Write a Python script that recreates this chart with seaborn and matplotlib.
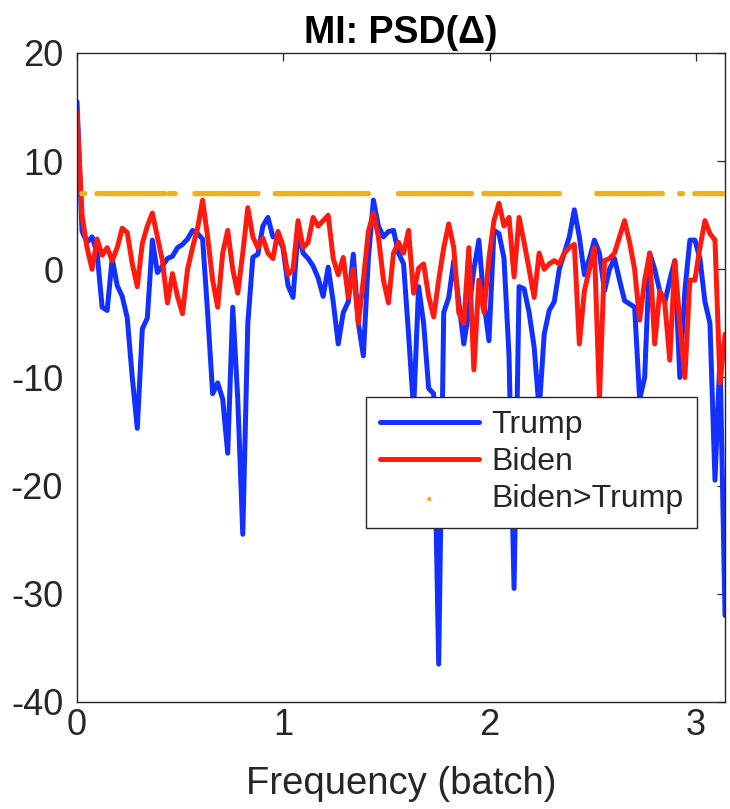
import numpy as np
import pandas as pd
import matplotlib
matplotlib.use("Agg")
import matplotlib.pyplot as plt
import seaborn as sns

# Frequency grid (rad / batch), 0 .. pi
n_bins = 130
freq = np.linspace(0, np.pi, n_bins)

# PSD of the difference signal, one value per frequency bin
trump = [
    15.5, 3.5, 2.5, 3.0, 1.5, -3.5, -3.8, 1.0, -1.5, -2.5,
    -4.5, -10.0, -14.7, -5.5, -4.5, 2.7, -0.3, 0.3, 1.0, 1.2,
    2.0, 2.3, 2.8, 3.6, 3.3, 2.8, -4.0, -11.5, -10.5, -12.0,
    -17.0, -3.5, -12.0, -24.5, -5.0, 1.1, 1.4, 4.0, 4.8, 3.0,
    3.0, 2.0, -1.5, -2.6, 3.5, 1.5, 1.0, 0.3, -0.8, -2.5,
    0.2, -3.0, -6.9, -4.0, -3.0, 1.4, -5.0, -8.0, 1.0, 6.4,
    4.0, 3.0, 3.5, 3.6, 1.5, 0.5, -6.0, -13.0, -1.6, -5.0,
    -11.0, -11.5, -36.5, -4.0, -2.6, 0.8, -3.0, -6.9, -3.8, 0.0,
    2.7, -3.0, -6.6, 3.6, 3.3, 1.0, -8.0, -29.5, -1.6, -1.8,
    -4.0, -7.2, -13.0, -6.0, -3.8, -3.0, 0.0, 1.5, 3.0, 5.5,
    3.0, -0.5, 1.0, 2.7, 1.5, -2.0, 0.0, 1.0, -1.0, -2.9,
    -3.2, -3.5, -12.0, -10.0, 1.5, 0.0, -2.0, -3.1, -1.0, 0.8,
    -10.0, -2.0, 2.7, 2.7, 1.0, -3.0, -5.0, -19.5, -8.0, -32.0,
]
biden = [
    14.5, 5.0, 2.0, 0.0, 2.8, 1.3, 2.0, 0.8, 2.0, 3.8,
    3.4, 0.5, -1.6, 2.4, 4.0, 5.2, 3.0, 0.8, -3.1, -0.4,
    -2.5, -4.1, 0.0, 2.0, 3.8, 6.4, 3.0, -1.0, -3.5, 1.5,
    3.6, 0.0, -2.2, 1.5, 5.7, 3.0, 2.0, 2.9, 1.5, 1.0,
    3.5, 2.2, -0.5, 0.0, 4.5, 2.0, 2.5, 4.8, 4.0, 4.5,
    5.0, 1.0, -0.5, 1.1, -2.6, 0.0, -5.0, -1.0, 3.5, 5.2,
    3.0, -1.0, -3.1, 1.5, 2.5, 1.5, 3.6, -2.2, 0.1, 0.5,
    -2.5, -4.4, -1.0, 2.0, 4.2, 2.0, -4.0, -5.0, 2.0, -9.3,
    -1.0, -4.0, 1.0, 4.5, 6.1, 4.0, 4.8, -0.7, 4.8, 2.5,
    0.0, -2.6, 1.5, 0.0, 0.5, 0.8, 0.5, 1.5, 2.0, 2.3,
    -6.9, -2.0, 0.0, 2.0, -12.0, 0.8, 1.0, 1.5, 3.0, 4.5,
    2.5, 0.0, -4.7, -1.0, 1.5, -6.9, -2.0, -3.1, -8.4, 0.8,
    -5.0, -10.0, -1.0, -1.0, 2.0, 4.5, 3.3, 2.7, -10.5, -6.0,
]

# Frequency bands flagged "Biden > Trump" (start, end)
biden_gt_bands = [
    (0.015, 0.040), (0.087, 0.432), (0.450, 0.485), (0.563, 0.888),
    (0.951, 1.413), (1.558, 1.915), (1.966, 2.345), (2.515, 2.845),
    (2.913, 2.942), (2.985, 3.142),
]
flag_level = 7.0

y_ticks = [-40, -30, -20, -10, 0, 10, 20]
x_ticks = [0, 1, 2, 3]

sns.set_theme(style="white")
plt.rcParams["font.family"] = ["Liberation Sans", "DejaVu Sans"]

psd = pd.DataFrame({
    "freq": np.concatenate([freq, freq]),
    "psd": np.concatenate([trump, biden]),
    "who": ["Trump"] * n_bins + ["Biden"] * n_bins,
})

# flag markers sit on a half-bin grid so the runs read as solid dashes
flag_freq = np.linspace(0, np.pi, 2 * n_bins - 1)
mask = np.zeros(flag_freq.size, dtype=bool)
for lo, hi in biden_gt_bands:
    mask |= (flag_freq >= lo) & (flag_freq <= hi)
flags = pd.DataFrame({"freq": flag_freq[mask], "level": flag_level})

fig = plt.figure(figsize=(7.30, 8.09), dpi=100)
ax = fig.add_axes([0.1055, 0.1323, 0.8877, 0.8022])

blue = "#1230ff"
red = "#ff1a0f"
gold = "#EDB120"
ink = "#262626"

sns.lineplot(data=psd[psd.who == "Trump"], x="freq", y="psd", color=blue,
             linewidth=3.6, sort=False, estimator=None, label="Trump", ax=ax)
sns.lineplot(data=psd[psd.who == "Biden"], x="freq", y="psd", color=red,
             linewidth=3.6, sort=False, estimator=None, label="Biden", ax=ax)
sns.scatterplot(data=flags, x="freq", y="level", color=gold, s=16,
                edgecolor="none", label="Biden>Trump", ax=ax, zorder=3)

ax.set_xlim(0, np.pi)
ax.set_ylim(-40, 20)
ax.set_xticks(x_ticks)
ax.set_yticks(y_ticks)
ax.set_xticklabels([str(t) for t in x_ticks])
ax.set_yticklabels([str(t) for t in y_ticks])
ax.tick_params(direction="in", top=True, right=True, length=6, width=0.9,
               colors=ink, labelsize=26)
ax.tick_params(axis="y", pad=10)
ax.tick_params(axis="x", pad=4)
for s in ax.spines.values():
    s.set_color(ink)
    s.set_linewidth(1.0)

ax.set_xlabel("Frequency (batch)", fontsize=27.5, color=ink, labelpad=17)
ax.set_ylabel("")
ax.set_title("MI: PSD(\u0394)", fontsize=27, fontweight="bold", color="black", pad=7)

leg = ax.legend(loc="upper right", bbox_to_anchor=(0.957, 0.47), fontsize=23,
                frameon=True, fancybox=False, framealpha=1, edgecolor=ink,
                handlelength=3.1, handletextpad=0.4, borderpad=0.42,
                borderaxespad=0.0, labelspacing=0.22, markerscale=0.8)
leg.get_frame().set_linewidth(1.0)

fig.savefig("out.png", dpi=100)
